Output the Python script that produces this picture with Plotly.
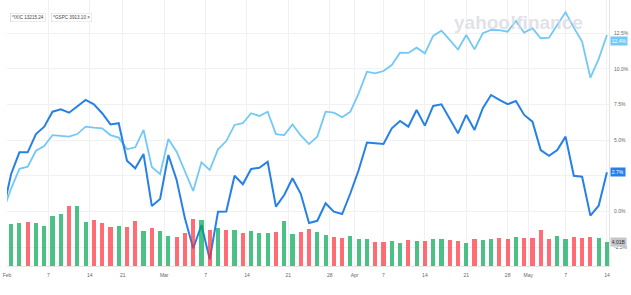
import plotly.graph_objects as go

# ---------------- data ----------------
# daily % change since start, trading-day index 0..73 (Jan 29 .. May 14)
ixic_pct = [0.00, 2.63, 4.15, 4.15, 5.43, 5.95, 7.00, 7.17, 6.93, 7.35,
            7.82, 7.52, 6.89, 6.11, 6.19, 3.56, 3.03, 4.03, 0.39, 0.88,
            3.96, 2.21, -0.48, -2.58, -0.95, -3.35, -0.02, 0.00, 2.51, 1.91,
            2.98, 3.07, 3.49, 0.34, 1.16, 2.33, 1.24, -0.81, -0.65, 0.58,
            -0.01, -0.18, 1.28, 2.91, 4.84, 4.78, 4.73, 5.83, 6.35, 5.95,
            7.12, 6.02, 7.40, 7.52, 6.45, 5.48, 6.77, 5.72, 7.24, 8.17,
            7.82, 7.52, 7.75, 6.77, 6.30, 4.31, 3.91, 4.31, 5.25, 2.51,
            2.44, -0.29, 0.41, 2.75]
gspc_pct = [0.00, 1.61, 2.99, 3.14, 4.26, 4.59, 5.36, 5.29, 5.25, 5.43,
            5.95, 5.88, 5.83, 5.36, 5.18, 4.36, 4.50, 5.72, 3.12, 2.62,
            5.08, 4.19, 2.79, 1.44, 3.45, 2.91, 4.36, 4.94, 6.07, 6.19,
            6.89, 6.70, 7.00, 5.43, 5.36, 6.11, 5.33, 4.73, 5.25, 7.00,
            6.93, 6.61, 7.00, 8.29, 9.80, 9.69, 9.85, 10.27, 11.14, 11.12,
            11.49, 11.09, 12.31, 12.68, 12.03, 11.36, 12.38, 11.37, 12.50, 12.73,
            12.72, 12.61, 13.36, 12.54, 12.85, 12.15, 12.19, 13.08, 13.97, 12.89,
            11.91, 9.38, 10.69, 12.38]
# volume in billions (index 0 not visible)
volume_b = [None, 6.96, 7.24, 7.41, 7.13, 6.68, 8.41, 8.63, 10.08, 9.97,
            7.41, 7.63, 7.18, 6.46, 6.68, 6.46, 7.52, 5.85, 6.29, 5.90,
            5.01, 4.90, 5.46, 7.80, 7.69, 5.96, 6.29, 6.01, 5.96, 5.46,
            5.90, 5.46, 5.46, 5.68, 7.52, 5.29, 5.62, 6.18, 5.62, 5.18,
            4.90, 4.68, 5.01, 4.57, 4.46, 4.07, 4.07, 4.12, 3.84, 4.29,
            4.18, 4.12, 4.46, 4.46, 4.40, 4.23, 3.90, 4.46, 4.34, 4.57,
            4.73, 4.57, 4.90, 4.73, 4.73, 5.96, 4.57, 5.01, 4.46, 4.85,
            4.73, 4.79, 4.73, 4.01]
# g = up day, r = down day (index 1..73)
vol_dir = "-" + "ggrggggrgg" + "rrrgrrgrgg" + "rrrgrgrgrg" + "ggrggrrggr" \
          + "rgggrrggrg" + "rggrrgrggr" + "rgrrrrggrr" + "rgg"

x_tick_pos = [0.5, 5.5, 10.5, 14.5, 19.5, 24.5, 29.5, 34.5, 39.5, 42.5,
              46, 51, 56, 61, 63.5, 68, 73]
x_tick_text = ["Feb", "7", "14", "21", "Mar", "7", "14", "21", "28", "Apr",
               "7", "14", "21", "28", "May", "7", "14"]
y_tick_vals = [-2.5, 0, 2.5, 5, 7.5, 10, 12.5]
# the 2.5% label is hidden behind the current-value box in the reference
y_tick_text = ["-2.5%", "0.0%", "", "5.0%", "7.5%", "10.0%", "12.5%"]

legend_ixic = "^IXIC 13215.24"
legend_gspc = "^GSPC 3913.10 ×"
ixic_last_label = "2.7%"
gspc_last_label = "12.4%"
vol_last_label = "4.01B"

# ---------------- styling ----------------
W, H = 631, 295
ML, MR, MT, MB = 7, 22, 0, 29
PW, PH = W - ML - MR, H - MT - MB
FONT = "Liberation Sans, Arial, sans-serif"
DARK = "#2680e6"
LIGHT = "#72c9f7"
GREEN = "rgba(0,166,82,0.70)"
RED = "rgba(255,45,55,0.70)"
GRID = "#f1f1f3"

def px_x(p):  # pixel -> paper x
    return (p - ML) / PW

def px_y(p):  # pixel -> paper y
    return (H - MB - p) / PH

idx = list(range(len(ixic_pct)))

fig = go.Figure()
fig.add_trace(go.Scatter(x=idx, y=gspc_pct, mode="lines",
                         line=dict(color=LIGHT, width=1.8), yaxis="y",
                         hoverinfo="skip"))
fig.add_trace(go.Scatter(x=idx, y=ixic_pct, mode="lines",
                         line=dict(color=DARK, width=2.0), yaxis="y",
                         hoverinfo="skip"))
fig.add_trace(go.Bar(x=idx, y=volume_b, width=0.5, yaxis="y2",
                     marker=dict(color=[GREEN if d == "g" else RED for d in vol_dir],
                                 line=dict(width=0)),
                     hoverinfo="skip"))

fig.update_layout(
    width=W, height=H,
    margin=dict(l=ML, r=MR, t=MT, b=MB, pad=0),
    paper_bgcolor="white", plot_bgcolor="white",
    showlegend=False,
    font=dict(family=FONT, size=5, color="#666"),
    xaxis=dict(range=[0.5, 73.25], tickmode="array", tickvals=x_tick_pos,
               ticktext=x_tick_text, showgrid=True, gridcolor=GRID, gridwidth=1,
               zeroline=False, showline=True, linecolor="#e4e4e6", linewidth=1,
               ticks="", ticklabelstandoff=4,
               tickfont=dict(size=5, color="#666")),
    yaxis=dict(range=[-3.82, 14.83], side="right", tickmode="array",
               tickvals=y_tick_vals, ticktext=y_tick_text, showgrid=True,
               gridcolor=GRID, gridwidth=1, zeroline=False, showline=True,
               linecolor="#e4e4e6", linewidth=1, ticks="",
               ticklabelstandoff=3, tickfont=dict(size=5, color="#666")),
    yaxis2=dict(range=[0, 44.44], overlaying="y", visible=False,
                showgrid=False, zeroline=False),
    bargap=0,
)

annotations = []
# watermark
annotations.append(dict(text="<b>yahoo!finance</b>", xref="paper", yref="paper",
                        x=px_x(518), y=px_y(22), xanchor="center", yanchor="middle",
                        showarrow=False,
                        font=dict(family="Liberation Sans, Arial", size=19,
                                  color="rgba(214,217,224,0.75)")))
# legend chips
annotations.append(dict(text=legend_ixic, xref="paper", yref="paper",
                        x=px_x(10), y=px_y(17.5), xanchor="left", yanchor="middle",
                        showarrow=False, bgcolor="white", bordercolor="#e2e2e2",
                        borderwidth=0.6, borderpad=1.3,
                        font=dict(size=4.6, color="#444")))
annotations.append(dict(text=legend_gspc, xref="paper", yref="paper",
                        x=px_x(51), y=px_y(17.5), xanchor="left", yanchor="middle",
                        showarrow=False, bgcolor="white", bordercolor="#e2e2e2",
                        borderwidth=0.6, borderpad=1.3,
                        font=dict(size=4.6, color="#444")))
# last value boxes
annotations.append(dict(text=gspc_last_label, xref="paper", yref="y",
                        x=1, y=gspc_pct[-1] - 0.4, xanchor="left", yanchor="middle",
                        xshift=1, showarrow=False, bgcolor=LIGHT, borderpad=0.8,
                        font=dict(size=5, color="white")))
annotations.append(dict(text=ixic_last_label, xref="paper", yref="y",
                        x=1, y=ixic_pct[-1], xanchor="left", yanchor="middle",
                        xshift=1, showarrow=False, bgcolor=DARK, borderpad=0.8,
                        font=dict(size=5, color="white")))
annotations.append(dict(text=vol_last_label, xref="paper", yref="y2",
                        x=1, y=volume_b[-1], xanchor="left", yanchor="middle",
                        xshift=1, showarrow=False, bgcolor="#c4c6cc", borderpad=0.8,
                        font=dict(size=5, color="#333")))
fig.update_layout(annotations=annotations)

# coloured left edges of legend chips
shapes = []
for left, col in [(10, DARK), (51, LIGHT)]:
    shapes.append(dict(type="rect", xref="paper", yref="paper",
                       x0=px_x(left), x1=px_x(left + 1.4),
                       y0=px_y(22), y1=px_y(13), fillcolor=col,
                       line=dict(width=0), layer="above"))
fig.update_layout(shapes=shapes)

fig.write_html("out.html")
